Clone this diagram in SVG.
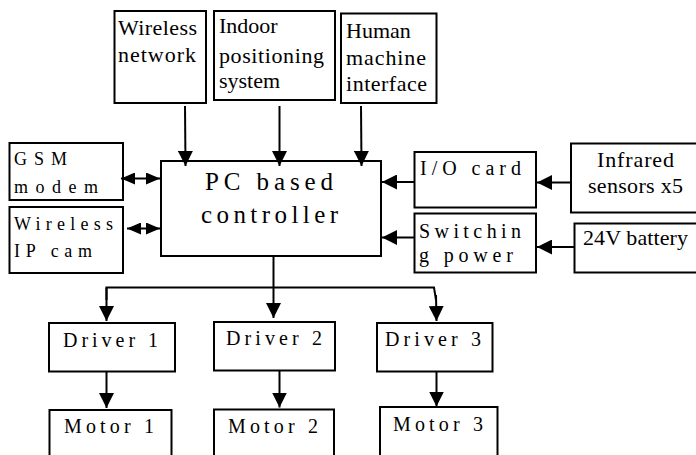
<svg xmlns="http://www.w3.org/2000/svg" width="696" height="455" viewBox="0 0 696 455">
<style>
.box{fill:#fff;stroke:#000;stroke-width:2}
.ln{fill:none;stroke:#000;stroke-width:2}
.arr{marker-end:url(#ah)}
.dbl{marker-end:url(#ah2);marker-start:url(#ah2)}
text{font-family:"Liberation Serif","DejaVu Serif",serif;fill:#000}
.t22{font-size:22px}
.t25{font-size:25px}
.t18{font-size:18px}
.t20{font-size:20px}
</style>
<defs>
<marker id="ah" viewBox="0 0 15 15" refX="15" refY="7.5" markerWidth="15" markerHeight="15" markerUnits="userSpaceOnUse" orient="auto">
<path d="M0,0 L15,7.5 L0,15 z" fill="#000"/>
</marker>
<marker id="ah2" viewBox="0 0 14 12" refX="14" refY="6" markerWidth="14" markerHeight="12" markerUnits="userSpaceOnUse" orient="auto-start-reverse">
<path d="M0,0 L14,6 L0,12 z" fill="#000"/>
</marker>
</defs>
<g id="wireless-network"><rect class="box" x="114.5" y="11" width="91.5" height="92"/><text class="t22" x="118" y="35" textLength="79">Wireless</text><text class="t22" x="118" y="62" textLength="78">network</text></g>
<g id="indoor-positioning"><rect class="box" x="214" y="11" width="121" height="89"/><text class="t22" x="219" y="33">Indoor</text><text class="t22" x="219" y="63" textLength="105">positioning</text><text class="t22" x="219" y="88">system</text></g>
<g id="hmi"><rect class="box" x="341" y="13.5" width="95.5" height="89.5"/><text class="t22" x="346" y="38">Human</text><text class="t22" x="346" y="65" textLength="80">machine</text><text class="t22" x="346" y="91" textLength="81">interface</text></g>
<g id="pc-controller"><rect class="box" x="161" y="161" width="220" height="95"/><text class="t25" x="205" y="190" textLength="128">PC based</text><text class="t25" x="201" y="223" textLength="137">controller</text></g>
<g id="gsm-modem"><rect class="box" x="9.5" y="143" width="113.5" height="57"/><text class="t18" x="14" y="165" textLength="53">GSM</text><text class="t18" x="14" y="193" textLength="84">modem</text></g>
<g id="wireless-ip-cam"><rect class="box" x="9.5" y="207" width="113.5" height="66"/><text class="t18" x="14" y="230" textLength="99">Wireless</text><text class="t18" x="14" y="257" textLength="78">IP cam</text></g>
<g id="io-card"><rect class="box" x="414.5" y="152" width="121.5" height="55.5"/><text class="t20" x="420" y="175" textLength="101">I/O card</text></g>
<g id="switching-power"><rect class="box" x="414.5" y="213.5" width="121.5" height="59"/><text class="t20" x="419" y="238" textLength="102">Switchin</text><text class="t20" x="419" y="262" textLength="94">g power</text></g>
<g id="infrared"><rect class="box" x="571" y="143.5" width="130" height="69"/><text class="t22" x="597" y="167" textLength="77">Infrared</text><text class="t22" x="588" y="193" textLength="95">sensors x5</text></g>
<g id="battery"><rect class="box" x="574.5" y="223.5" width="130" height="49"/><text class="t22" x="583" y="245" textLength="105">24V battery</text></g>
<g id="driver1"><rect class="box" x="49" y="323" width="126" height="48.5"/><text class="t20" x="63" y="347" textLength="95">Driver 1</text></g>
<g id="driver2"><rect class="box" x="214" y="322" width="121" height="48.5"/><text class="t20" x="226" y="345" textLength="96">Driver 2</text></g>
<g id="driver3"><rect class="box" x="377" y="323" width="115.5" height="48.5"/><text class="t20" x="385" y="346" textLength="96">Driver 3</text></g>
<g id="motor1"><rect class="box" x="49.5" y="410" width="122" height="60"/><text class="t20" x="64" y="433" textLength="90">Motor 1</text></g>
<g id="motor2"><rect class="box" x="214" y="409.5" width="120" height="60"/><text class="t20" x="228" y="433" textLength="90">Motor 2</text></g>
<g id="motor3"><rect class="box" x="380" y="407" width="117.5" height="60"/><text class="t20" x="393" y="431" textLength="90">Motor 3</text></g>
<g id="connectors">
<line class="ln arr" x1="185" y1="106" x2="185.5" y2="166"/>
<line class="ln arr" x1="279.5" y1="106" x2="279.5" y2="166"/>
<line class="ln arr" x1="361" y1="106" x2="361.5" y2="166"/>
<line class="ln dbl" x1="121" y1="178.5" x2="160" y2="178.5"/>
<line class="ln dbl" x1="127" y1="228.5" x2="160" y2="228.5"/>
<line class="ln arr" x1="414.5" y1="182" x2="382" y2="182"/>
<line class="ln arr" x1="571" y1="182.5" x2="537" y2="182.5"/>
<line class="ln arr" x1="414.5" y1="237.5" x2="382" y2="237.5"/>
<line class="ln arr" x1="574.5" y1="247" x2="537" y2="247"/>
<line class="ln" x1="273.5" y1="256" x2="273.5" y2="287.5"/>
<polyline class="ln" points="106.5,300 106.5,287.5 434,287.5 436,300"/>
<line class="ln arr" x1="106.5" y1="287.5" x2="106.5" y2="321"/>
<line class="ln arr" x1="273.5" y1="287.5" x2="273.5" y2="318"/>
<line class="ln arr" x1="436" y1="295" x2="436.5" y2="321"/>
<line class="ln arr" x1="106.5" y1="371.5" x2="106.5" y2="408"/>
<line class="ln arr" x1="279.5" y1="370.5" x2="279.5" y2="407.5"/>
<line class="ln arr" x1="436.5" y1="371.5" x2="436.5" y2="406.5"/>
</g>
</svg>
